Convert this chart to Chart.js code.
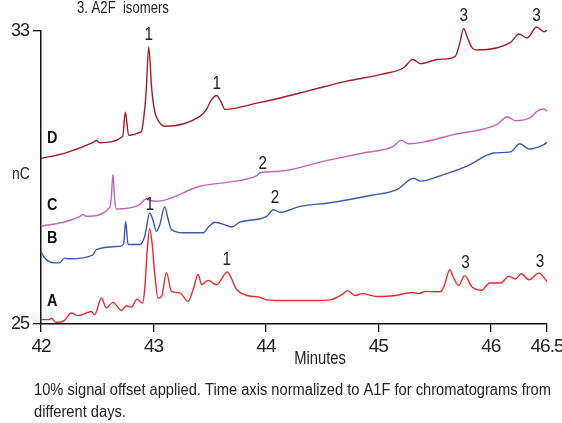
<!DOCTYPE html>
<html><head><meta charset="utf-8">
<script src="https://cdn.jsdelivr.net/npm/chart.js@4/dist/chart.umd.min.js"></script>
<style>html,body{margin:0;padding:0;background:#fff;}canvas{display:block;}</style>
</head><body>
<canvas id="c" width="562" height="423"></canvas>
<script>
const FONT = "'Liberation Sans','Arimo',Arial,sans-serif";

const xTicks = [42, 43, 44, 45, 46, 46.5];
const yTicks = [25, 33];

// Trace A (red)
const aTime = [42.0,42.076,42.091,42.135,42.209,42.269,42.328,42.403,42.447,42.477,42.537,42.581,42.640,42.715,42.759,42.804,42.854,42.902,42.922,42.945,42.967,42.989,43.012,43.041,43.074,43.116,43.160,43.234,43.308,43.353,43.398,43.428,43.487,43.562,43.656,43.740,43.843,43.932,44.007,44.126,44.423,44.571,44.676,44.726,44.794,44.854,44.988,45.136,45.300,45.358,45.418,45.552,45.587,45.635,45.668,45.715,45.768,45.834,45.917,45.991,46.087,46.161,46.220,46.271,46.339,46.428,46.5];
const aNc = [25.12,25.12,25.16,25.04,25.10,25.30,25.23,25.30,25.34,25.25,25.71,25.44,25.59,25.37,25.50,25.46,25.68,25.57,25.94,27.03,27.60,27.17,26.35,25.71,25.77,26.41,25.89,25.85,25.62,25.94,26.35,26.07,26.19,26.07,26.42,25.94,25.77,25.74,25.66,25.64,25.64,25.66,25.80,25.91,25.78,25.83,25.75,25.77,25.86,25.83,25.89,25.88,26.05,26.48,26.27,26.05,26.32,26.01,25.92,26.12,26.12,26.30,26.23,26.37,26.21,26.39,26.16];

// Trace B (blue)
const bTime = [42.0,42.031,42.120,42.165,42.209,42.254,42.462,42.492,42.700,42.735,42.753,42.774,42.878,42.922,42.967,42.994,43.027,43.056,43.101,43.127,43.160,43.264,43.442,43.493,43.546,43.651,43.695,43.769,44.007,44.066,44.126,44.304,44.571,44.928,45.166,45.314,45.374,45.581,45.790,46.027,46.176,46.259,46.339,46.472,46.5];
const bNc = [26.98,26.81,26.67,26.67,26.80,26.78,26.89,27.03,27.12,27.19,27.80,27.17,27.17,27.39,28.03,27.85,27.53,27.71,28.20,27.90,27.58,27.49,27.49,27.66,27.78,27.69,27.65,27.78,27.94,28.12,28.05,28.21,28.31,28.51,28.67,28.98,28.90,29.08,29.31,29.67,29.70,29.92,29.78,29.90,29.96];

// Trace C (pink)
const cTime = [42.0,42.225,42.343,42.373,42.403,42.611,42.624,42.640,42.655,42.670,42.878,42.938,42.967,43.027,43.413,43.769,43.918,43.948,44.126,44.509,44.866,45.133,45.202,45.267,45.433,45.668,46.057,46.146,46.220,46.354,46.413,46.472,46.5];
const cNc = [27.67,27.80,27.93,27.99,27.94,28.18,28.40,29.08,28.40,28.14,28.26,28.42,28.38,28.35,28.76,28.92,29.05,29.13,29.17,29.44,29.67,29.85,30.02,29.92,29.99,30.17,30.45,30.66,30.55,30.64,30.81,30.87,30.81];

// Trace D (dark red)
const dTime = [42.0,42.227,42.459,42.495,42.521,42.726,42.750,42.780,42.816,42.878,42.893,42.922,42.936,42.958,42.985,43.012,43.038,43.101,43.413,43.472,43.511,43.562,43.600,43.636,43.948,44.126,44.420,44.720,45.017,45.222,45.308,45.374,45.522,45.612,45.685,45.721,45.759,45.792,45.834,45.879,46.176,46.250,46.325,46.407,46.473,46.5];
const dNc = [29.52,29.68,29.95,30.01,29.95,30.12,30.78,30.15,30.17,30.23,30.26,30.86,31.40,32.56,31.40,30.80,30.58,30.40,30.67,30.86,31.10,31.24,31.07,30.86,31.05,31.17,31.40,31.63,31.81,31.99,32.22,32.11,32.22,32.24,32.31,32.63,33.06,32.82,32.54,32.48,32.69,32.92,32.81,33.11,32.98,33.02];

// Peak annotations
const peakText = ['1','1','3','3','2','2','1','1','3','3'];
const peakTime = [42.958,43.562,45.759,46.407,43.972,44.081,42.967,43.651,45.775,46.437];
const peakNc   = [32.90,31.54,33.40,33.40,29.36,28.44,28.26,26.76,26.67,26.70];

// Trace names
const traceNames = ['D','C','B','A'];
const traceNameTime = [42.10,42.10,42.10,42.10];
const traceNameNc = [30.06,28.23,27.33,25.61];

const captionLines = ['10% signal offset applied. Time axis normalized to A1F for chromatograms from', 'different days.'];

const pts = (t, v) => t.map((x, i) => ({x: x, y: v[i]}));

function drawText(ctx, s, x, y, sx) {
  ctx.save();
  ctx.translate(x, y);
  ctx.scale(sx, 1);
  ctx.fillText(s, 0, 0);
  ctx.restore();
}

const textPlugin = {
  id: 'texts',
  beforeDraw(chart) {
    chart.ctx.letterSpacing = '-1px';
  },
  afterDraw(chart) {
    const ctx = chart.ctx, xs = chart.scales.x, ys = chart.scales.y;
    ctx.save();
    ctx.letterSpacing = '0px';
    ctx.fillStyle = '#222';
    ctx.textAlign = 'center';
    ctx.textBaseline = 'middle';
    ctx.font = '18px ' + FONT;
    peakText.forEach((s, i) => drawText(ctx, s, xs.getPixelForValue(peakTime[i]), ys.getPixelForValue(peakNc[i]), 0.85));
    ctx.font = 'bold 16px ' + FONT;
    ctx.fillStyle = '#111';
    traceNames.forEach((s, i) => drawText(ctx, s, xs.getPixelForValue(traceNameTime[i]), ys.getPixelForValue(traceNameNc[i]), 0.9));
    ctx.fillStyle = '#222';
    ctx.font = '17px ' + FONT;
    drawText(ctx, 'nC', 21, 174, 0.82);
    ctx.font = '18px ' + FONT;
    drawText(ctx, 'Minutes', 320, 359, 0.82);
    ctx.textAlign = 'left';
    ctx.textBaseline = 'alphabetic';
    ctx.font = '16px ' + FONT;
    drawText(ctx, '3. A2F  isomers', 77, 13, 0.82);
    const w = ctx.measureText(captionLines[0]).width;
    const sc = 517 / w;
    drawText(ctx, captionLines[0], 34, 395, sc);
    drawText(ctx, captionLines[1], 34, 417, sc);
    ctx.restore();
  }
};

const lineDs = (label, t, v, color) => ({
  label: label, data: pts(t, v), borderColor: color, borderWidth: 1.4,
  pointRadius: 0, fill: false, cubicInterpolationMode: 'monotone', clip: false
});

new Chart(document.getElementById('c'), {
  type: 'line',
  data: {
    datasets: [
      lineDs('A', aTime, aNc, '#ec2a2e'),
      lineDs('B', bTime, bNc, '#3d57b0'),
      lineDs('C', cTime, cNc, '#c765b4'),
      lineDs('D', dTime, dNc, '#a01d2a')
    ]
  },
  options: {
    responsive: false,
    animation: false,
    devicePixelRatio: 1,
    layout: {padding: {left: 0, top: 31, right: 15, bottom: 69}},
    plugins: {legend: {display: false}, tooltip: {enabled: false}},
    scales: {
      x: {
        type: 'linear', min: 42, max: 46.5,
        afterBuildTicks: s => { s.ticks = xTicks.map(v => ({value: v})); },
        afterFit: s => { s.height = 30; s.paddingLeft = 0; s.paddingRight = 0; },
        ticks: {autoSkip: false, maxRotation: 0, padding: 3, color: '#222',
                font: {family: FONT, size: 19}, callback: v => String(v)},
        grid: {display: true, drawOnChartArea: false, drawTicks: true, tickLength: 8, color: '#111', lineWidth: 1.3},
        border: {display: true, color: '#111', width: 1.5}
      },
      y: {
        type: 'linear', min: 25, max: 33,
        afterBuildTicks: s => { s.ticks = yTicks.map(v => ({value: v})); },
        afterFit: s => { s.width = 41; s.paddingTop = 0; s.paddingBottom = 0; },
        ticks: {autoSkip: false, padding: 4, color: '#222',
                font: {family: FONT, size: 18}, callback: v => String(v)},
        grid: {display: true, drawOnChartArea: false, drawTicks: true, tickLength: 8, color: '#111', lineWidth: 1.3},
        border: {display: true, color: '#111', width: 1.5}
      }
    }
  },
  plugins: [textPlugin]
});
</script>
</body></html>
